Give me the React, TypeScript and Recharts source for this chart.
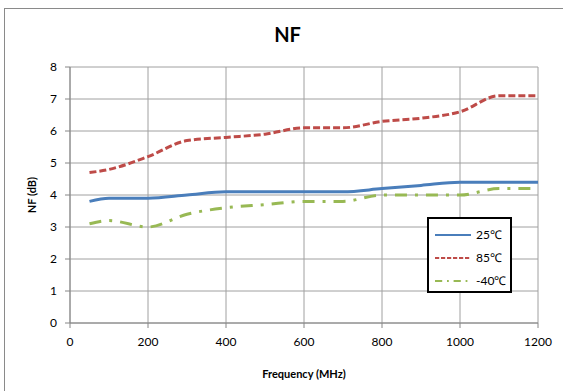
import { CartesianGrid, Label, Line, LineChart, XAxis, YAxis } from "recharts";

const freqs = [50, 100, 200, 300, 400, 500, 600, 700, 800, 900, 1000, 1100, 1200];
const nf25 = [3.8, 3.9, 3.9, 4.0, 4.1, 4.1, 4.1, 4.1, 4.2, 4.3, 4.4, 4.4, 4.4];
const nf85 = [4.7, 4.8, 5.2, 5.7, 5.8, 5.9, 6.1, 6.1, 6.3, 6.4, 6.6, 7.1, 7.1];
const nfMinus40 = [3.1, 3.2, 3.0, 3.4, 3.6, 3.7, 3.8, 3.8, 4.0, 4.0, 4.0, 4.2, 4.2];
const xTicks = [0, 200, 400, 600, 800, 1000, 1200];
const yTicks = [0, 1, 2, 3, 4, 5, 6, 7, 8];

const series = [
  { key: "t25", name: "25℃", color: "#4a7ebb", dash: undefined },
  { key: "t85", name: "85℃", color: "#be4b48", dash: "7 3" },
  { key: "tm40", name: "-40℃", color: "#98b954", dash: "12 8 3 8" },
];

const data = freqs.map((f, i) => ({
  freq: f,
  t25: nf25[i],
  t85: nf85[i],
  tm40: nfMinus40[i],
}));

const font = "Lato, 'Open Sans', sans-serif";

function LegendBox() {
  return (
    <div
      style={{
        position: "absolute",
        left: 427,
        top: 217,
        border: "2px solid #000",
        background: "#fff",
        width: 85,
        height: 76,
        boxSizing: "border-box",
        padding: "4px 0 0 6px",
        fontFamily: font,
        fontSize: 12,
        color: "#000",
      }}
    >
      {series.map((s) => (
        <div key={s.key} style={{ display: "flex", alignItems: "center", height: 23 }}>
          <svg width={38} height={6}>
            <line
              x1={0}
              y1={3}
              x2={36}
              y2={3}
              stroke={s.color}
              strokeWidth={2}
              strokeDasharray={s.dash ? s.dash.split(" ").map((n) => Number(n) * 0.6).join(" ") : undefined}
            />
          </svg>
          <span style={{ marginLeft: 3 }}>{s.name}</span>
        </div>
      ))}
    </div>
  );
}

export default function App() {
  return (
    <div style={{ position: "absolute", left: 0, top: 0, width: 563, height: 391, overflow: "hidden", background: "#fff" }}>
      <div
        style={{
          position: "absolute",
          left: 4,
          top: 8,
          width: 620,
          height: 420,
          border: "1px solid #8a8a8a",
        }}
      />
      <div
        style={{
          position: "absolute",
          left: 0,
          top: 22,
          width: 575,
          textAlign: "center",
          fontFamily: font,
          fontWeight: 700,
          fontSize: 20,
          color: "#000",
        }}
      >
        NF
      </div>
      <div style={{ position: "absolute", left: 0, top: 0 }}>
        <LineChart width={563} height={391} data={data} margin={{ top: 67, right: 25, bottom: 38, left: 30 }}>
          <CartesianGrid stroke="#a0a0a0" strokeWidth={1} />
          <XAxis
            dataKey="freq"
            type="number"
            domain={[0, 1200]}
            ticks={xTicks}
            interval={0}
            height={30}
            stroke="#868686"
            tickSize={5}
            tickMargin={9}
            tick={{ fontSize: 12, fill: "#000", fontFamily: font }}
          >
            <Label
              value="Frequency (MHz)"
              position="bottom"
              offset={17}
              style={{ fontSize: 11, fontWeight: 700, fill: "#000", fontFamily: font }}
            />
          </XAxis>
          <YAxis
            type="number"
            domain={[0, 8]}
            ticks={yTicks}
            interval={0}
            width={40}
            stroke="#868686"
            tickSize={5}
            tickMargin={8}
            tick={{ fontSize: 12, fill: "#000", fontFamily: font }}
          >
            <Label
              value="NF (dB)"
              angle={-90}
              position="left"
              offset={-2}
              style={{ fontSize: 11, fontWeight: 700, fill: "#000", fontFamily: font, textAnchor: "middle" }}
            />
          </YAxis>
          {series.map((s) => (
            <Line
              key={s.key}
              type="monotone"
              dataKey={s.key}
              name={s.name}
              stroke={s.color}
              strokeWidth={3}
              strokeDasharray={s.dash}
              dot={false}
              activeDot={false}
              isAnimationActive={false}
            />
          ))}
        </LineChart>
      </div>
      <LegendBox />
    </div>
  );
}
